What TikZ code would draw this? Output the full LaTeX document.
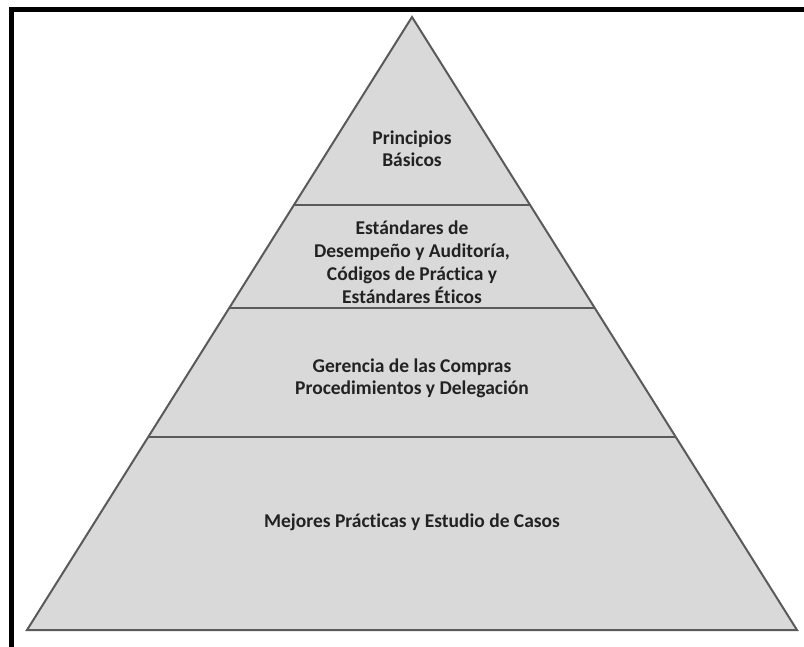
\documentclass[tikz,border=0pt]{standalone}
\usepackage{fontspec}
\setmainfont{Carlito}[Ligatures=NoCommon]
\usetikzlibrary{calc}
\definecolor{layerfill}{HTML}{D9D9D9}
\definecolor{edgegray}{HTML}{5A5A5A}
\definecolor{textdark}{HTML}{222222}
\begin{document}
\begin{tikzpicture}[x=1pt,y=-1pt,
  outline/.style={fill=layerfill,draw=edgegray,line width=2pt,line join=miter},
  divider/.style={draw=edgegray,line width=2.2pt},
  label/.style={font=\bfseries\fontsize{19.5}{23}\selectfont,text=textdark,anchor=base,inner sep=0pt},
  frame/.style={draw=black,line width=5pt}]
\useasboundingbox (0,0) rectangle (804,647);
% page frame (top and left edges)
\draw[frame] (11.5,650) -- (11.5,9.5) -- (806,9.5);
% pyramid corners
\coordinate (apex) at (412,17);
\coordinate (bl) at (27,630);
\coordinate (br) at (797,630);
\draw[outline] (apex) -- (bl) -- (br) -- cycle;
% divider end points on the slanted sides
\coordinate (d1l) at ($(apex)!{188/613}!(bl)$);
\coordinate (d1r) at ($(apex)!{188/613}!(br)$);
\coordinate (d2l) at ($(apex)!{291/613}!(bl)$);
\coordinate (d2r) at ($(apex)!{291/613}!(br)$);
\coordinate (d3l) at ($(apex)!{420/613}!(bl)$);
\coordinate (d3r) at ($(apex)!{420/613}!(br)$);
\draw[divider] (d1l) -- (d1r);
\draw[divider] (d2l) -- (d2r);
\draw[divider] (d3l) -- (d3r);
% layer labels, one line each, placed on their baselines
\node[label] (t1a) at (412,145) {Principios};
\node[label] (t1b) at (412,167) {Básicos};
\node[label] (t2a) at (412,235) {Estándares de};
\node[label] (t2b) at (412,258) {Desempeño y Auditoría,};
\node[label] (t2c) at (412,281) {Códigos de Práctica y};
\node[label] (t2d) at (412,304) {Estándares Éticos};
\node[label] (t3a) at (412,372) {Gerencia de las Compras};
\node[label] (t3b) at (412,394) {Procedimientos y Delegación};
\node[label] (t4) at (412,527) {Mejores Prácticas y Estudio de Casos};
\end{tikzpicture}
\end{document}
